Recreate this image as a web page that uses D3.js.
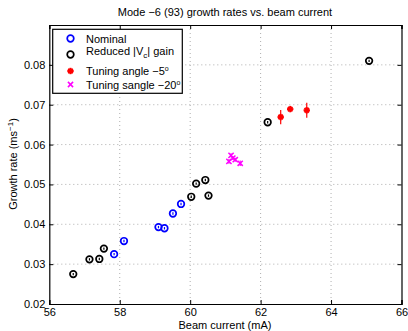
<!DOCTYPE html>
<html><head><meta charset="utf-8">
<script src="https://cdn.jsdelivr.net/npm/d3@7"></script>
<style>body{margin:0;background:#fff}svg{display:block;font-family:"Liberation Sans",Arial,sans-serif}</style>
</head><body><div id="c"></div>
<script>
const xTicks = [56,58,60,62,64,66];
const yTicks = [0.02,0.03,0.04,0.05,0.06,0.07,0.08];
const nominalX = [57.84,58.12,59.1,59.27,59.51,59.74];
const nominalY = [0.0325,0.0358,0.0393,0.0390,0.0427,0.0451];
const nominalE = [0.0003,0.0003,0.0003,0.0003,0.0003,0.0003];
const reducedX = [56.68,57.14,57.42,57.55,60.03,60.17,60.43,60.52,62.2,65.08];
const reducedY = [0.0275,0.0312,0.0313,0.0339,0.0469,0.0502,0.0511,0.0472,0.0656,0.0810];
const reducedE = [0.0003,0.0003,0.0003,0.0003,0.0003,0.0003,0.0003,0.0003,0.0003,0.0003];
const tune5X = [62.57,62.84,63.31];
const tune5Y = [0.0669,0.0689,0.0686];
const tune5E = [0.0018,0.0003,0.0019];
const tune20X = [61.1,61.16,61.21,61.28,61.42];
const tune20Y = [0.0558,0.0573,0.0566,0.0562,0.0553];
const tune20E = [0.0006,0.0005,0.0005,0.0005,0.0007];

const W=408,H=331,L=49.3,R=401.5,T=25,B=304;
const svg=d3.select("#c").append("svg").attr("width",W).attr("height",H);
const x=d3.scaleLinear().domain([56,66]).range([L,R]);
const y=d3.scaleLinear().domain([0.02,0.09]).range([B,T]);

// grid
const g=svg.append("g");
g.selectAll(".gx").data(xTicks.slice(1,-1)).join("line")
 .attr("x1",d=>x(d)).attr("x2",d=>x(d)).attr("y1",T).attr("y2",B)
 .attr("stroke","#999").attr("stroke-width",0.8).attr("stroke-dasharray","1,3");
g.selectAll(".gy").data(yTicks.slice(1)).join("line")
 .attr("y1",d=>y(d)).attr("y2",d=>y(d)).attr("x1",L).attr("x2",R)
 .attr("stroke","#999").attr("stroke-width",0.8).attr("stroke-dasharray","1,3");

// axes
const xa=svg.append("g").attr("transform",`translate(0,${B})`)
 .call(d3.axisBottom(x).tickValues(xTicks).tickSize(-4).tickPadding(4).tickFormat(d3.format("d")));
const xt=svg.append("g").attr("transform",`translate(0,${T})`)
 .call(d3.axisTop(x).tickValues(xTicks).tickSize(-4).tickFormat(""));
const ya=svg.append("g").attr("transform",`translate(${L},0)`)
 .call(d3.axisLeft(y).tickValues(yTicks).tickSize(-4).tickPadding(4).tickFormat(d3.format(".2f")));
const yr=svg.append("g").attr("transform",`translate(${R},0)`)
 .call(d3.axisRight(y).tickValues(yTicks).tickSize(-4).tickFormat(""));
[xa,xt,ya,yr].forEach(a=>{a.select(".domain").attr("stroke","#000").attr("stroke-width",1.2);
 a.selectAll(".tick line").attr("stroke","#000");
 a.selectAll("text").attr("font-size",11).attr("fill","#000").attr("font-family","Liberation Sans, Arial, sans-serif");});

// data
function series(X,Y,E,color,type){
 const gg=svg.append("g");
 const d=X.map((v,i)=>({x:v,y:Y[i],e:E[i]}));
 gg.selectAll("line.e").data(d).join("line")
  .attr("x1",p=>x(p.x)).attr("x2",p=>x(p.x)).attr("y1",p=>y(p.y-p.e)).attr("y2",p=>y(p.y+p.e))
  .attr("stroke",color).attr("stroke-width",1.2);
 drawMarkers(gg,d.map(p=>[x(p.x),y(p.y)]),color,type);
}
function drawMarkers(gg,pts,color,type){
 pts.forEach(([px,py])=>{
  if(type==="o"){
   gg.append("circle").attr("cx",px).attr("cy",py).attr("r",3.3).attr("fill","none").attr("stroke",color).attr("stroke-width",1.7);
  } else if(type==="*"){
   const s=3.2;
   [[s,0],[0,s],[s*0.7,s*0.7],[s*0.7,-s*0.7]].forEach(([a,b])=>{
    gg.append("line").attr("x1",px-a).attr("x2",px+a).attr("y1",py-b).attr("y2",py+b).attr("stroke",color).attr("stroke-width",2);
   });
   gg.append("circle").attr("cx",px).attr("cy",py).attr("r",2.2).attr("fill",color);
  } else {
   const s=2.6;
   gg.append("line").attr("x1",px-s).attr("x2",px+s).attr("y1",py-s).attr("y2",py+s).attr("stroke",color).attr("stroke-width",1.5);
   gg.append("line").attr("x1",px-s).attr("x2",px+s).attr("y1",py+s).attr("y2",py-s).attr("stroke",color).attr("stroke-width",1.5);
  }
 });
}
series(nominalX,nominalY,nominalE,"#0000ff","o");
series(reducedX,reducedY,reducedE,"#000","o");
series(tune5X,tune5Y,tune5E,"#ff0000","*");
series(tune20X,tune20Y,tune20E,"#ff00ff","x");

// legend
const lg=svg.append("g");
lg.append("rect").attr("x",52.7).attr("y",29.3).attr("width",129.6).attr("height",64).attr("fill","#fff").attr("stroke","#000").attr("stroke-width",1.2);
const mx=70.5, tx=86;
drawMarkers(lg,[[mx,38.5]],"#0000ff","o");
drawMarkers(lg,[[mx,54.5]],"#000","o");
drawMarkers(lg,[[mx,71]],"#ff0000","*");
drawMarkers(lg,[[mx,84.5]],"#ff00ff","x");
const fs=11;
lg.append("text").attr("x",tx).attr("y",42.5).attr("font-size",fs).text("Nominal");
const t2=lg.append("text").attr("x",tx).attr("y",55).attr("font-size",fs);
t2.append("tspan").text("Reduced |V");
t2.append("tspan").attr("font-size",8).attr("dy",3).text("c");
t2.append("tspan").attr("dy",-3).text("| gain");
const t3=lg.append("text").attr("x",tx).attr("y",75).attr("font-size",fs);
t3.append("tspan").text("Tuning angle \u22125");
t3.append("tspan").attr("font-size",7).attr("dy",-4).text("o");
const t4=lg.append("text").attr("x",tx).attr("y",88.5).attr("font-size",fs);
t4.append("tspan").text("Tuning sangle \u221220");
t4.append("tspan").attr("font-size",7).attr("dy",-4).text("o");

// titles
svg.append("text").attr("x",225).attr("y",16).attr("text-anchor","middle").attr("font-size",11).text("Mode \u22126 (93) growth rates vs. beam current");
svg.append("text").attr("x",225).attr("y",329).attr("text-anchor","middle").attr("font-size",11).text("Beam current (mA)");
const yl=svg.append("text").attr("transform","translate(17,164) rotate(-90)").attr("text-anchor","middle").attr("font-size",11);
yl.append("tspan").text("Growth rate (ms");
yl.append("tspan").attr("font-size",8).attr("dy",-4).text("\u22121");
yl.append("tspan").attr("dy",4).text(")");
</script></body></html>
